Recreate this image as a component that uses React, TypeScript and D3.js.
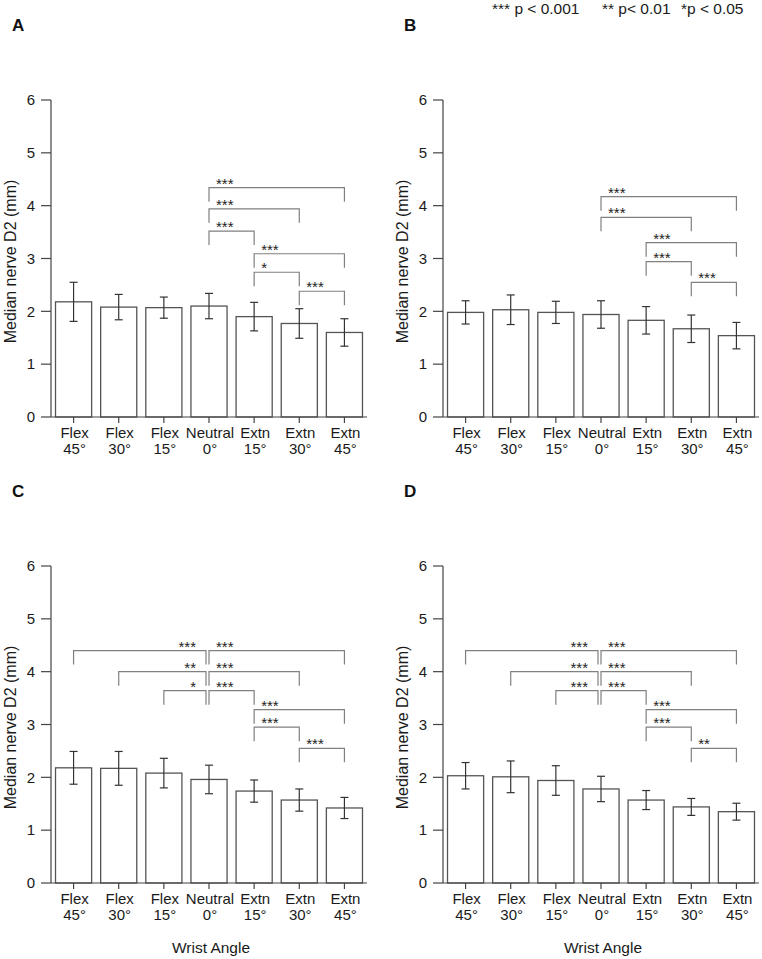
import React from "react";
import * as d3 from "d3";

const catTop = ["Flex", "Flex", "Flex", "Neutral", "Extn", "Extn", "Extn"];
const catBottom = ["45°", "30°", "15°", "0°", "15°", "30°", "45°"];
const yTicks = [0, 1, 2, 3, 4, 5, 6];

const meansA = [2.18, 2.08, 2.07, 2.1, 1.9, 1.77, 1.6];
const errA = [0.37, 0.24, 0.2, 0.24, 0.27, 0.28, 0.26];
const meansB = [1.98, 2.03, 1.98, 1.94, 1.83, 1.67, 1.54];
const errB = [0.22, 0.28, 0.21, 0.26, 0.26, 0.26, 0.25];
const meansC = [2.18, 2.17, 2.08, 1.96, 1.74, 1.57, 1.42];
const errC = [0.31, 0.32, 0.28, 0.27, 0.21, 0.21, 0.2];
const meansD = [2.03, 2.01, 1.94, 1.78, 1.57, 1.44, 1.35];
const errD = [0.25, 0.3, 0.28, 0.24, 0.18, 0.16, 0.16];

// [fromIndex, toIndex, level (mm), label]
const bracketsA: [number, number, number, string][] = [
  [3, 6, 4.34, "***"],
  [3, 5, 3.94, "***"],
  [3, 4, 3.52, "***"],
  [4, 6, 3.09, "***"],
  [4, 5, 2.74, "*"],
  [5, 6, 2.38, "***"],
];
const bracketsB: [number, number, number, string][] = [
  [3, 6, 4.17, "***"],
  [3, 5, 3.78, "***"],
  [4, 6, 3.3, "***"],
  [4, 5, 2.94, "***"],
  [5, 6, 2.55, "***"],
];
const bracketsC: [number, number, number, string][] = [
  [0, 3, 4.4, "***"],
  [3, 6, 4.4, "***"],
  [1, 3, 4.0, "**"],
  [3, 5, 4.0, "***"],
  [2, 3, 3.64, "*"],
  [3, 4, 3.64, "***"],
  [4, 6, 3.28, "***"],
  [4, 5, 2.95, "***"],
  [5, 6, 2.55, "***"],
];
const bracketsD: [number, number, number, string][] = [
  [0, 3, 4.4, "***"],
  [3, 6, 4.4, "***"],
  [1, 3, 4.0, "***"],
  [3, 5, 4.0, "***"],
  [2, 3, 3.64, "***"],
  [3, 4, 3.64, "***"],
  [4, 6, 3.28, "***"],
  [4, 5, 2.95, "***"],
  [5, 6, 2.55, "**"],
];

const legendItems = ["*** p < 0.001", "** p< 0.01", "*p < 0.05"];
const yTitle = "Median nerve D2 (mm)";
const xTitle = "Wrist Angle";

const FONT = "Arial, 'Liberation Sans', sans-serif";

type PanelProps = {
  letter: string;
  dx: number;
  dy: number;
  means: number[];
  errs: number[];
  brackets: [number, number, number, string][];
  showXTitle: boolean;
};

function Panel({ letter, dx, dy, means, errs, brackets, showXTitle }: PanelProps) {
  const left = 51;
  const right = 367;
  const top = 100;
  const bottom = 417;
  const idx = catTop.map((_, i) => i);
  const x = d3.scaleBand<number>().domain(idx).range([left, right]).paddingInner(0.2).paddingOuter(0.1);
  const y = d3.scaleLinear().domain([0, 6]).range([bottom, top]);
  const cx = (i: number) => (x(i) as number) + x.bandwidth() / 2;
  const leg = 14;
  const cap = 4;

  return (
    <g transform={`translate(${dx},${dy})`} fontFamily={FONT}>
      <text x={12} y={31} fontSize={17} fontWeight="bold" fill="#111">
        {letter}
      </text>
      {/* bars */}
      {means.map((m, i) => (
        <rect
          key={"b" + i}
          x={x(i)}
          y={y(m)}
          width={x.bandwidth()}
          height={y(0) - y(m)}
          fill="#fff"
          stroke="#555"
          strokeWidth={1.3}
        />
      ))}
      {/* error bars */}
      {means.map((m, i) => (
        <g key={"e" + i} stroke="#333" strokeWidth={1.2}>
          <line x1={cx(i)} x2={cx(i)} y1={y(m + errs[i])} y2={y(m - errs[i])} />
          <line x1={cx(i) - cap} x2={cx(i) + cap} y1={y(m + errs[i])} y2={y(m + errs[i])} />
          <line x1={cx(i) - cap} x2={cx(i) + cap} y1={y(m - errs[i])} y2={y(m - errs[i])} />
        </g>
      ))}
      {/* axes */}
      <line x1={left} x2={left} y1={top} y2={bottom} stroke="#444" strokeWidth={1.2} />
      <line x1={left} x2={right} y1={bottom} y2={bottom} stroke="#444" strokeWidth={1.2} />
      {yTicks.map((t) => (
        <g key={"yt" + t}>
          <line x1={left - 10} x2={left} y1={y(t)} y2={y(t)} stroke="#444" strokeWidth={1.2} />
          <text x={left - 16} y={y(t)} dy="0.35em" textAnchor="end" fontSize={15} fill="#1a1a1a">
            {t}
          </text>
        </g>
      ))}
      {idx.map((i) => (
        <g key={"xt" + i}>
          <line x1={cx(i)} x2={cx(i)} y1={bottom} y2={bottom + 6} stroke="#444" strokeWidth={1.2} />
          <text x={cx(i) + 1} y={bottom + 21} textAnchor="middle" fontSize={15} fill="#1a1a1a">
            {catTop[i]}
          </text>
          <text x={cx(i) + 1} y={bottom + 37} textAnchor="middle" fontSize={15} fill="#1a1a1a">
            {catBottom[i]}
          </text>
        </g>
      ))}
      <text
        transform={`translate(16,${(top + bottom) / 2 + 3}) rotate(-90)`}
        textAnchor="middle"
        fontSize={16}
        fill="#1a1a1a"
      >
        {yTitle}
      </text>
      {showXTitle && (
        <text x={(left + right) / 2 + 2} y={bottom + 70} textAnchor="middle" fontSize={15.5} fill="#1a1a1a">
          {xTitle}
        </text>
      )}
      {/* significance brackets */}
      {brackets.map(([a, b, lvl, lab], k) => {
        const leftward = b === 3 && a < 3;
        const x1 = cx(a);
        const x2 = cx(b) - (leftward ? 3 : 0);
        const yy = y(lvl);
        return (
          <g key={"br" + k}>
            <path
              d={`M${x1},${yy + leg}V${yy}H${x2}V${yy + leg}`}
              fill="none"
              stroke="#808080"
              strokeWidth={1.2}
            />
            <text
              x={leftward ? x2 - 10 : x1 + 7}
              y={yy + 1}
              textAnchor={leftward ? "end" : "start"}
              fontSize={15}
              fill="#222"
            >
              {lab}
            </text>
          </g>
        );
      })}
    </g>
  );
}

export default function App() {
  const legendX = [492, 602, 681];
  return (
    <svg
      width={762}
      height={959}
      style={{ position: "absolute", left: 0, top: 0, background: "#fff" }}
    >
      <rect width={762} height={959} fill="#fff" />
      {legendItems.map((t, i) => (
        <text key={t} x={legendX[i]} y={14} fontSize={15.5} fontFamily={FONT} fill="#1a1a1a">
          {t}
        </text>
      ))}
      <Panel letter="A" dx={0} dy={0} means={meansA} errs={errA} brackets={bracketsA} showXTitle={false} />
      <Panel letter="B" dx={392} dy={0} means={meansB} errs={errB} brackets={bracketsB} showXTitle={false} />
      <Panel letter="C" dx={0} dy={466} means={meansC} errs={errC} brackets={bracketsC} showXTitle={true} />
      <Panel letter="D" dx={392} dy={466} means={meansD} errs={errD} brackets={bracketsD} showXTitle={true} />
    </svg>
  );
}
